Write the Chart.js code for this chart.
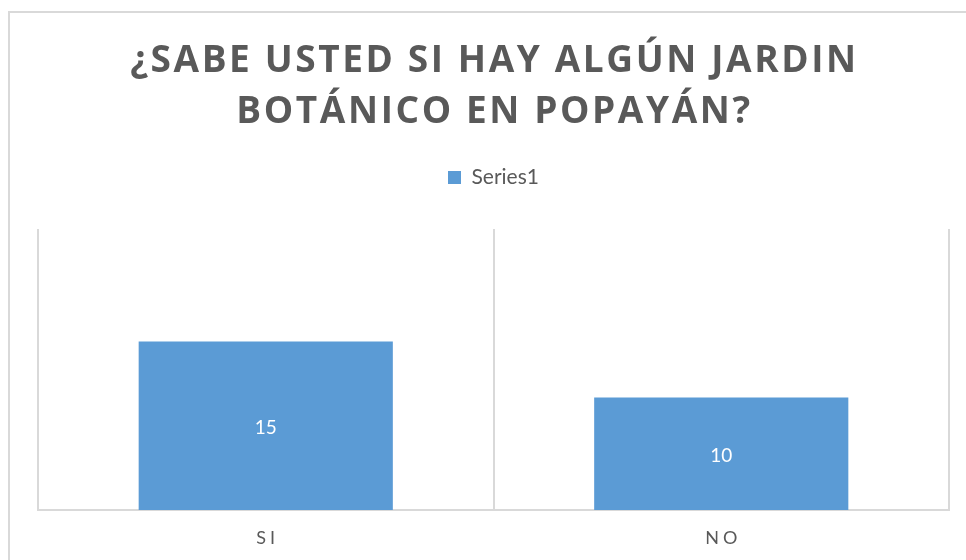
<!DOCTYPE html>
<html>
<head>
<meta charset="utf-8">
<script src="https://cdn.jsdelivr.net/npm/chart.js@4.4.1/dist/chart.umd.min.js"></script>
<style>
    html, body { margin: 0; padding: 0; background: #ffffff; overflow: hidden; }
    #frame {
        position: absolute; left: 8px; top: 11px;
        width: 1000px; height: 600px;
        border-left: 2px solid #d9d9d9; border-top: 2px solid #d9d9d9;
    }
    #wrap { position: absolute; left: 0; top: 0; width: 966px; height: 560px; }
</style>
</head>
<body>
<div id="frame"></div>
<div id="wrap"><canvas id="jardinChart"></canvas></div>
<script>
// Chart data
const titleLines = ['¿SABE USTED SI HAY ALGÚN JARDIN', 'BOTÁNICO EN POPAYÁN?'];
const categories = ['SI', 'NO'];
const seriesName = 'Series1';
const seriesValues = [15, 10];

const TEXT_GREY = '#595959';
const BAR_BLUE = '#5b9bd5';
const GRID_GREY = '#d9d9d9';

// Title drawn with letter spacing (Chart.js title reserves the space)
const spacedTitle = {
    id: 'spacedTitle',
    afterDraw(chart) {
        const ctx = chart.ctx;
        const top = chart.titleBlock.top;
        const cx = (chart.chartArea.left + chart.chartArea.right) / 2 + 1;
        ctx.save();
        ctx.font = 'bold 37px "Open Sans"';
        ctx.fillStyle = TEXT_GREY;
        ctx.textAlign = 'center';
        ctx.textBaseline = 'middle';
        ctx.letterSpacing = '2.6px';
        titleLines.forEach((line, i) => {
            ctx.fillText(line, cx, top + 61 + i * 51);
        });
        ctx.restore();
    }
};

// Category labels with letter spacing
const spacedTicks = {
    id: 'spacedTicks',
    afterDraw(chart) {
        const ctx = chart.ctx;
        const xScale = chart.scales.x;
        ctx.save();
        ctx.font = '18px Lato';
        ctx.fillStyle = TEXT_GREY;
        ctx.textAlign = 'center';
        ctx.textBaseline = 'middle';
        ctx.letterSpacing = '4px';
        categories.forEach((label, i) => {
            ctx.fillText(label, xScale.getPixelForValue(i) + 2, xScale.bottom + 28);
        });
        ctx.restore();
    }
};

// Value labels in the middle of each bar
const barValues = {
    id: 'barValues',
    afterDatasetsDraw(chart) {
        const ctx = chart.ctx;
        const meta = chart.getDatasetMeta(0);
        ctx.save();
        ctx.font = '19px Lato';
        ctx.fillStyle = '#ffffff';
        ctx.textAlign = 'center';
        ctx.textBaseline = 'middle';
        meta.data.forEach((bar, i) => {
            ctx.fillText(String(seriesValues[i]), bar.x, (bar.y + bar.base) / 2 + 2);
        });
        ctx.restore();
    }
};

new Chart(document.getElementById('jardinChart'), {
    type: 'bar',
    data: {
        labels: categories,
        datasets: [{
            label: seriesName,
            data: seriesValues,
            backgroundColor: BAR_BLUE,
            borderWidth: 0,
            categoryPercentage: 1,
            barPercentage: 0.558
        }]
    },
    options: {
        responsive: true,
        maintainAspectRatio: false,
        animation: false,
        layout: {
            padding: { left: 38, right: 17, top: 0, bottom: 50 }
        },
        plugins: {
            title: {
                display: true,
                text: titleLines,
                color: 'rgba(0,0,0,0)',
                font: { family: 'Open Sans', size: 40, weight: 'bold', lineHeight: 1.3 },
                padding: { top: 22, bottom: 0 }
            },
            legend: {
                display: true,
                position: 'top',
                labels: {
                    color: TEXT_GREY,
                    font: { family: 'Lato', size: 21 },
                    boxWidth: 13,
                    boxHeight: 13,
                    padding: 41
                }
            },
            tooltip: { enabled: false }
        },
        scales: {
            x: {
                grid: {
                    display: true,
                    offset: true,
                    color: GRID_GREY,
                    lineWidth: 2,
                    drawTicks: false
                },
                border: { display: true, color: GRID_GREY, width: 2 },
                ticks: { display: false }
            },
            // empty spacer between legend and plot area
            xTop: {
                type: 'category',
                position: 'top',
                grid: { display: false, drawTicks: false },
                border: { display: false },
                ticks: { display: false },
                afterFit(scale) { scale.height = 31; }
            },
            y: {
                display: false,
                min: 0,
                max: 25
            }
        }
    },
    plugins: [spacedTitle, spacedTicks, barValues]
});
</script>
</body>
</html>
